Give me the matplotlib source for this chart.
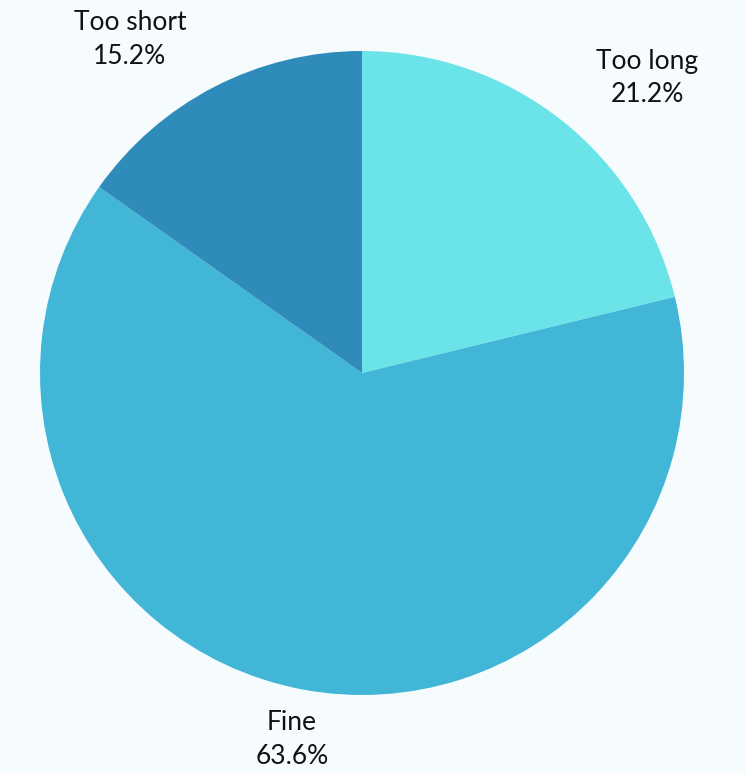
import matplotlib
matplotlib.use("Agg")
import matplotlib.pyplot as plt

# data
labels = ["Too long", "Fine", "Too short"]
shares = [21.2, 63.6, 15.2]
colors = ["#6ae4e8", "#42b6d6", "#2e8bba"]

BG = "#f6fcfd"

# label anchor positions in figure pixels (from top-left)
label_px = {"Too long": (647, 78), "Fine": (292, 740), "Too short": (130, 40)}

W, H = 746, 773
fig = plt.figure(figsize=(W / 100, H / 100), dpi=100, facecolor=BG)
ax = fig.add_axes([40 / W, (H - 695) / H, 644 / W, 644 / H])
ax.set_facecolor(BG)

ax.pie(shares, colors=colors, startangle=90, counterclock=False,
       radius=1.0, wedgeprops=dict(linewidth=0))
ax.set_xlim(-1, 1)
ax.set_ylim(-1, 1)
ax.set_aspect("equal")
ax.axis("off")

for lab, val in zip(labels, shares):
    x, y = label_px[lab]
    fig.text(x / W, 1 - y / H, f"{lab}\n{val:.1f}%", ha="center", va="center",
             fontsize=19, family="Lato", color="#111111", linespacing=1.45)

fig.savefig("out.png", dpi=100, facecolor=BG)
